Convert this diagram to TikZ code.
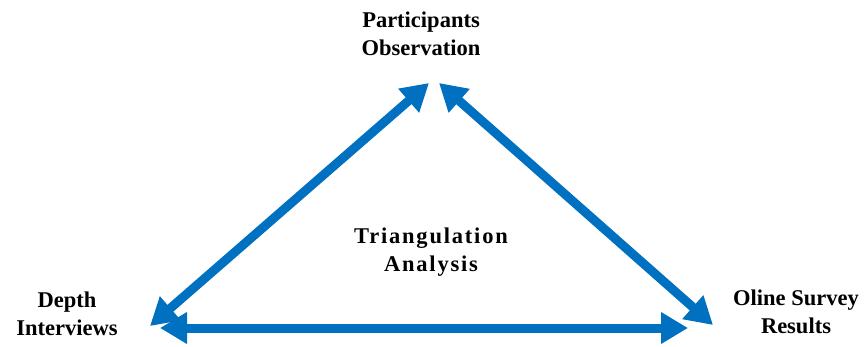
\documentclass[tikz,border=0pt]{standalone}
\usepackage{fontspec}
\setmainfont{Liberation Serif}
\usetikzlibrary{arrows.meta}
\definecolor{arrowblue}{HTML}{0070C0}
\tikzstyle{label} = [text centered, align=center, font=\bfseries\fontsize{22.5}{28}\selectfont, inner sep=0pt]
\tikzstyle{arrow} = [line width=9pt, draw=arrowblue, {Triangle[length=27pt,width=30pt]}-{Triangle[length=27pt,width=30pt]}]

\begin{document}
\begin{tikzpicture}[x=1pt, y=-1pt]
\useasboundingbox (0,0) rectangle (867,347);

\node(observation) [label] at (421,34) {Participants\\Observation};
\node(interviews) [label] at (67,314) {Depth\\Interviews};
\node(survey) [label] at (796,312) {Oline Survey\\Results};
\node(analysis) [label, font=\bfseries\fontsize{22.5}{28}\selectfont\addfontfeature{LetterSpace=8}] at (431,252) {Triangulation\\Analysis};

\coordinate (topl) at (429,83);
\coordinate (topr) at (439,83);
\coordinate (left) at (150,326);
\coordinate (right) at (713,325);
\coordinate (botl) at (160,328);
\coordinate (botr) at (688,328);

\draw [arrow] (left) -- (topl);
\draw [arrow] (topr) -- (right);
\draw [arrow] (botl) -- (botr);

\end{tikzpicture}
\end{document}
